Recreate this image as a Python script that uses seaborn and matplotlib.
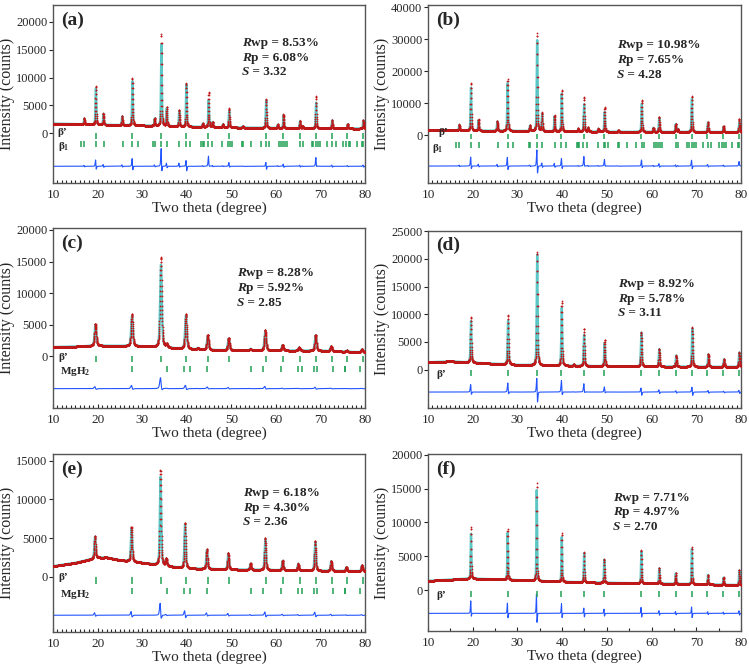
import numpy as np
import matplotlib
matplotlib.use("Agg")
import matplotlib.pyplot as plt
import seaborn as sns
from matplotlib.ticker import MultipleLocator

# reflection markers (two theta, degree)
beta_prime_ticks = [19.6, 27.8, 34.3, 39.8, 44.8, 49.4, 57.7, 61.6, 65.4, 69.0, 72.5, 76.0, 79.5]
beta1_ticks = [16.2, 17.0, 19.6, 21.5, 25.6, 27.8, 29.1, 32.5, 32.8, 34.3, 35.5, 38.3, 39.8, 40.8,
               43.3, 43.6, 43.8, 44.7, 45.6, 48.0, 49.3, 49.7, 50.2, 52.5, 52.7, 54.5, 56.6, 57.8,
               58.4, 60.6, 61.1, 61.5, 62.0, 62.4, 65.4, 66.0, 68.0, 68.4, 69.0, 69.5, 69.9, 71.4,
               72.6, 73.4, 75.1, 75.7, 76.3, 76.6, 78.1, 79.3, 79.6]
mgh2_ticks = [27.7, 35.5, 39.4, 40.7, 44.6, 54.3, 57.2, 61.1, 64.9, 65.8, 68.5, 69.3, 72.9, 75.4,
              75.5, 78.9]

# (a)
a_bg_x = [10, 20, 30, 40, 50, 60, 70, 80]
a_bg_y = [1750, 1550, 1400, 1200, 1050, 950, 900, 850]
a_pos = [17.0, 19.6, 21.3, 25.5, 27.8, 32.8, 34.3, 35.5, 38.3, 39.9, 43.6, 44.9, 45.8, 48.1,
         49.5, 52.6, 57.8, 60.4, 61.7, 65.4, 66.0, 69.0, 72.6, 76.1, 79.6]
a_obs = [1100, 6950, 2050, 1650, 8450, 1400, 16500, 3400, 3000, 7750, 650, 6300, 950, 600,
         3400, 300, 5100, 650, 2450, 1350, 400, 5800, 1500, 800, 1500]
a_calc = [1050, 6500, 1950, 1550, 7900, 1300, 14700, 3200, 2700, 7600, 600, 4850, 900, 550,
          3000, 280, 5000, 600, 2300, 1300, 380, 4600, 1450, 760, 1450]

# (b)
b_bg_x = [10, 20, 30, 40, 50, 60, 80]
b_bg_y = [1550, 1450, 1350, 1200, 1100, 1050, 1000]
b_pos = [17.0, 19.6, 21.3, 25.5, 27.8, 32.8, 34.4, 35.5, 38.3, 39.9, 43.6, 44.9, 45.8, 48.1,
         49.5, 52.6, 57.8, 60.4, 61.7, 65.4, 65.9, 69.0, 72.6, 76.1, 79.6]
b_obs = [1900, 14950, 3550, 3100, 16100, 1800, 30500, 5700, 5000, 13000, 950, 10850, 1250, 1000,
         7770, 480, 9900, 1350, 4700, 2600, 1000, 11150, 3150, 1800, 4200]
b_calc = [1800, 13450, 3300, 2900, 14900, 1700, 28400, 5300, 4700, 11800, 900, 8550, 1200, 950,
          6200, 450, 8850, 1300, 4400, 2500, 950, 10400, 3000, 1700, 3000]

# (c)
c_bg_x = [10, 15, 20, 25, 30, 35, 40, 45, 50, 60, 70, 80]
c_bg_y = [1470, 1550, 1680, 1650, 1580, 1350, 1160, 1000, 950, 920, 880, 630]
c_pos = [19.5, 27.7, 34.2, 35.5, 39.8, 42.5, 44.7, 49.4, 54.3, 57.6, 61.5, 65.2, 68.9, 72.4, 75.9, 79.3]
c_obs = [3500, 5050, 14300, 500, 5570, 250, 2420, 1950, 280, 3270, 920, 520, 2540, 800, 200, 500]
c_calc = [3350, 4750, 13100, 470, 5300, 230, 2250, 1850, 260, 3050, 880, 500, 2450, 760, 190, 470]

# (d)
d_bg_x = [10, 15, 20, 30, 40, 50, 60, 80]
d_bg_y = [1330, 1500, 1250, 850, 700, 600, 550, 480]
d_pos = [19.6, 27.9, 34.4, 39.9, 42.6, 44.9, 49.5, 57.7, 61.7, 65.5, 69.1, 72.7, 76.2, 79.6]
d_obs = [8200, 8900, 20500, 11650, 300, 6750, 4800, 6200, 3250, 2040, 7100, 2300, 1400, 2650]
d_calc = [7500, 7900, 20000, 10450, 260, 5650, 4200, 6100, 3150, 2000, 6900, 2250, 1380, 2600]

# (e)
e_bg_x = [10, 15, 18, 20, 22, 25, 30, 35, 40, 50, 60, 70, 80]
e_bg_y = [1380, 1810, 2200, 2450, 2500, 2150, 1810, 1400, 1080, 950, 860, 780, 730]
e_pos = [19.4, 27.6, 34.1, 35.4, 39.6, 44.5, 49.3, 54.3, 57.6, 61.5, 65.0, 68.8, 72.4, 75.8, 79.3]
e_obs = [2950, 4500, 12300, 950, 5900, 2600, 2150, 820, 4120, 1270, 900, 3850, 1300, 520, 780]
e_calc = [2800, 4300, 11440, 900, 5700, 2450, 2050, 780, 3950, 1220, 860, 3700, 1250, 500, 750]

# (f)
f_bg_x = [10, 15, 20, 25, 30, 40, 50, 60, 70, 80]
f_bg_y = [1370, 1550, 1700, 1600, 1470, 1225, 1080, 980, 880, 735]
f_pos = [19.6, 27.8, 34.3, 39.9, 44.9, 49.4, 57.7, 61.7, 65.4, 69.0, 72.6, 76.1, 79.6]
f_obs = [7700, 7560, 14500, 7200, 4500, 3570, 4960, 2350, 1600, 5450, 1450, 1100, 2250]
f_calc = [6630, 6930, 13400, 6600, 4300, 3400, 4700, 2250, 1550, 5200, 1400, 1060, 2150]

stats = {
    "a": ("8.53%", "6.08%", "3.32"),
    "b": ("10.98%", "7.65%", "4.28"),
    "c": ("8.28%", "5.92%", "2.85"),
    "d": ("8.92%", "5.78%", "3.11"),
    "e": ("6.18%", "4.30%", "2.36"),
    "f": ("7.71%", "4.97%", "2.70"),
}

RED = "#c01818"
CYAN = "#5cc6c6"
BLUE = "#2255ff"
GREEN = "#22a055"


def pseudo_voigt(x, pos, h, w, eta=0.5):
    y = np.zeros_like(x)
    for p, hh in zip(pos, h):
        d = (x - p) / (w / 2)
        y += hh * (eta / (1 + d ** 2) + (1 - eta) * np.exp(-np.log(2) * d ** 2))
    return y


sns.set_style("ticks")
plt.rcParams["font.family"] = ["Liberation Serif", "DejaVu Serif"]
plt.rcParams["mathtext.fontset"] = "custom"
plt.rcParams["mathtext.rm"] = "Liberation Serif:bold"
plt.rcParams["mathtext.it"] = "Liberation Serif:italic:bold"

fig = plt.figure(figsize=(7.49, 6.67), dpi=100)

panels = [
    # key, rect, data, width, ylim, ystep, diff offset, phases, stats pos, minor step
    ("a", [0.0708, 0.7256, 0.4166, 0.2669], (a_bg_x, a_bg_y, a_pos, a_obs, a_calc), 0.22,
     (-8900, 23000), 5000, -5900,
     [("β’", beta_prime_ticks, (0, -950), (10.9, 100)), ("β$_1$", beta1_ticks, (-1450, -2450), (11.2, -2300))],
     (0.606, 0.787), 1),
    ("b", [0.5714, 0.7256, 0.4179, 0.2669], (b_bg_x, b_bg_y, b_pos, b_obs, b_calc), 0.22,
     (-14900, 40700), 10000, -9600,
     [("β’", beta_prime_ticks, (400, -1100), (12.4, 1000)), ("β$_1$", beta1_ticks, (-2100, -3850), (10.9, -4200))],
     (0.603, 0.775), 1),
    ("c", [0.0708, 0.3883, 0.4166, 0.2699], (c_bg_x, c_bg_y, c_pos, c_obs, c_calc), 0.45,
     (-8160, 20300), 5000, -5100,
     [("β’", beta_prime_ticks, (0, -950), (11.3, -100)), ("MgH$_2$", mgh2_ticks, (-1580, -2530), (11.6, -2450))],
     (0.589, 0.752), 1),
    ("d", [0.5714, 0.3883, 0.4179, 0.2659], (d_bg_x, d_bg_y, d_pos, d_obs, d_calc), 0.25,
     (-6930, 25100), 5000, -4050,
     [("β’", beta_prime_ticks, (-130, -1200), (11.8, -850))],
     (0.607, 0.70), 1),
    ("e", [0.0708, 0.0525, 0.4166, 0.2669], (e_bg_x, e_bg_y, e_pos, e_obs, e_calc), 0.35,
     (-7110, 15860), 5000, -4950,
     [("β’", beta_prime_ticks, (-80, -860), (11.3, -100)), ("MgH$_2$", mgh2_ticks, (-1420, -2240), (11.6, -2250))],
     (0.608, 0.782), 1),
    ("f", [0.5714, 0.0540, 0.4179, 0.2654], (f_bg_x, f_bg_y, f_pos, f_obs, f_calc), 0.18,
     (-6030, 20100), 5000, -3430,
     [("β’", beta_prime_ticks, (-100, -980), (11.8, -850))],
     (0.591, 0.753), 5),
]

x = np.arange(10, 80.0001, 0.02)

for key, rect, (bgx, bgy, pos, obs_h, calc_h), w, ylim, ystep, doff, phases, spos, minor in panels:
    ax = fig.add_axes(rect)
    bg = np.interp(x, bgx, bgy)
    obs = bg + pseudo_voigt(x, pos, obs_h, w)
    calc = bg + pseudo_voigt(x, np.array(pos) + 0.02, calc_h, w)
    diff = obs - calc + doff

    sns.lineplot(x=x, y=calc, ax=ax, color=CYAN, lw=1.7, estimator=None, sort=False)
    sns.scatterplot(x=x, y=obs, ax=ax, color=RED, s=1.6, linewidth=0, zorder=3)
    sns.lineplot(x=x, y=diff, ax=ax, color=BLUE, lw=0.8, estimator=None, sort=False)

    for name, ticks, (top, bot), (lx, ly) in phases:
        ax.vlines(ticks, bot, top, color=GREEN, lw=1.1)
        ax.text(lx, ly, name, fontsize=8, fontweight="bold", ha="left", va="center")

    ax.set_xlim(10, 80)
    ax.set_ylim(*ylim)
    ax.set_yticks(np.arange(0, ylim[1] + 1, ystep))
    ax.xaxis.set_major_locator(MultipleLocator(10))
    ax.xaxis.set_minor_locator(MultipleLocator(minor))
    ax.tick_params(axis="x", which="major", direction="in", length=3, labelsize=9.5, pad=4)
    ax.tick_params(axis="x", which="minor", direction="in", length=2, width=0.8)
    ax.tick_params(axis="y", which="major", direction="out", length=3, labelsize=9, pad=1)
    for sp in ax.spines.values():
        sp.set_visible(True)
        sp.set_color("#555555")
        sp.set_linewidth(1.0)

    ax.set_xlabel("Two theta (degree)", fontsize=11, labelpad=1)
    ax.set_ylabel("Intensity (counts)", fontsize=11.5, labelpad=1)

    ax.text(0.025, 0.915, f"({key})", transform=ax.transAxes, fontsize=14,
            fontweight="bold", ha="left", va="center")

    rwp, rp, s = stats[key]
    lines = [("R", f"wp = {rwp}"), ("R", f"p = {rp}"), ("S", f" = {s}")]
    for i, (it, rest) in enumerate(lines):
        t = ax.text(spos[0], spos[1] - i * 0.083, it, transform=ax.transAxes, fontsize=9.5,
                    fontweight="bold", fontstyle="italic", ha="left", va="center")
        ax.annotate(rest, xy=(1, 0), xycoords=t, fontsize=9.5, fontweight="bold",
                    ha="left", va="bottom")

fig.savefig("out.png", dpi=100)
